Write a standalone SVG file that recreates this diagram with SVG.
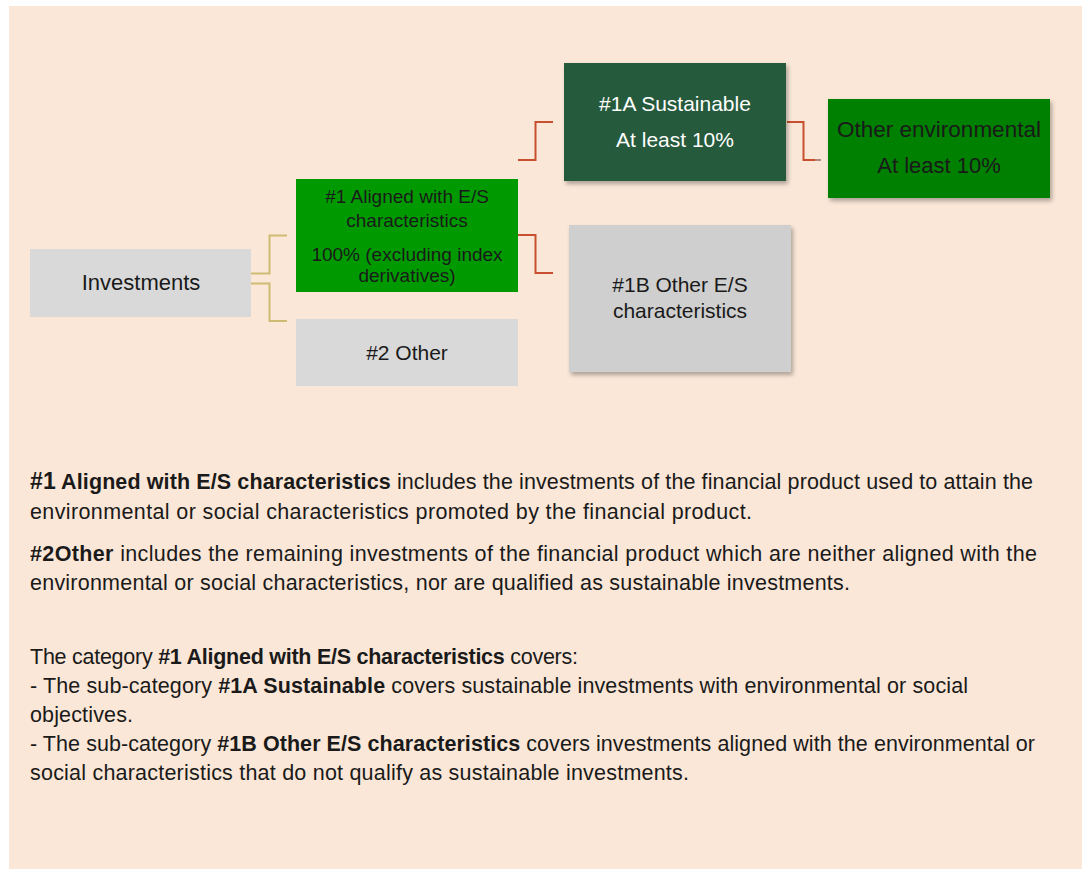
<svg xmlns="http://www.w3.org/2000/svg" width="1082" height="869" viewBox="0 0 1082 869">
<defs>
<style>
.node{font-family:"Liberation Sans",Arial,sans-serif;font-size:21px;text-anchor:middle;fill:#1a1a1a;}
.body{font-family:"Liberation Sans",Arial,sans-serif;font-size:21.5px;fill:#1a1a1a;}
.b{font-weight:bold;}
.yel{fill:none;stroke:#cdbb73;stroke-width:2;}
.red{fill:none;stroke:#c8502e;stroke-width:2;}
</style>
<filter id="sh" x="-10%" y="-10%" width="130%" height="140%">
<feDropShadow dx="2" dy="3" stdDeviation="2" flood-color="#000" flood-opacity="0.3"/>
</filter>
</defs>
<rect x="9" y="6" width="1073" height="863" fill="#fae7d7"/>

<g id="connectors">
<path class="yel" d="M251 273.5 H269.5 V235.5 H287"/>
<path class="yel" d="M251 283.5 H269.5 V321 H287"/>
<path class="red" d="M518 235 H535.5 V273 H553"/>
<path class="red" d="M518 160 H535.5 V122 H553"/>
<path class="red" d="M787 122 H803.5 V160 H815"/>
<path d="M815 160 H821" fill="none" stroke="#b08878" stroke-width="2"/>
</g>

<g id="investments">
<rect x="30" y="249" width="221" height="68" fill="#d9d9d9"/>
<text class="node" style="font-size:22px" x="141" y="290">Investments</text>
</g>

<g id="aligned">
<rect x="296" y="179" width="222" height="113" fill="#009a00"/>
<text class="node" style="font-size:19px" x="407" y="203">#1 Aligned with E/S</text>
<text class="node" style="font-size:19px" x="407" y="227">characteristics</text>
<text class="node" style="font-size:19px" x="407" y="261">100% (excluding index</text>
<text class="node" style="font-size:19px" x="407" y="282">derivatives)</text>
</g>

<g id="other2">
<rect x="296" y="319" width="222" height="67" fill="#d9d9d9"/>
<text class="node" x="407" y="360">#2 Other</text>
</g>

<g id="sustainable">
<rect x="564" y="63" width="222" height="118" fill="#275a3c" filter="url(#sh)"/>
<text class="node" style="fill:#ffffff" x="675" y="111">#1A Sustainable</text>
<text class="node" style="fill:#ffffff" x="675" y="147">At least 10%</text>
</g>

<g id="otherenv">
<rect x="828" y="99" width="222" height="99" fill="#038003" filter="url(#sh)"/>
<text class="node" style="font-size:22.5px" x="939" y="137">Other environmental</text>
<text class="node" style="font-size:22px" x="939" y="173">At least 10%</text>
</g>

<g id="otheres">
<rect x="569" y="225" width="222" height="147" fill="#cfcfcf" filter="url(#sh)"/>
<text class="node" x="680" y="292">#1B Other E/S</text>
<text class="node" x="680" y="318">characteristics</text>
</g>

<g id="legend">
<text class="body" x="30" y="489" textLength="1003" lengthAdjust="spacing"><tspan class="b" style="font-size:23px">#1</tspan><tspan class="b"> Aligned with E/S characteristics</tspan> includes the investments of the financial product used to attain the</text>
<text class="body" x="30" y="519" textLength="722" lengthAdjust="spacing">environmental or social characteristics promoted by the financial product.</text>
<text class="body" x="30" y="561" textLength="1007" lengthAdjust="spacing"><tspan class="b">#2Other</tspan> includes the remaining investments of the financial product which are neither aligned with the</text>
<text class="body" x="30" y="590" textLength="820" lengthAdjust="spacing">environmental or social characteristics, nor are qualified as sustainable investments.</text>
<text class="body" x="30" y="664" textLength="548" lengthAdjust="spacing">The category <tspan class="b">#1 Aligned with E/S characteristics</tspan> covers:</text>
<text class="body" x="30" y="693" textLength="938" lengthAdjust="spacing">- The sub-category <tspan class="b">#1A Sustainable</tspan> covers sustainable investments with environmental or social</text>
<text class="body" x="30" y="722" textLength="103" lengthAdjust="spacing">objectives.</text>
<text class="body" x="30" y="751" textLength="1005" lengthAdjust="spacing">- The sub-category <tspan class="b">#1B Other E/S characteristics</tspan> covers investments aligned with the environmental or</text>
<text class="body" x="30" y="780" textLength="659" lengthAdjust="spacing">social characteristics that do not qualify as sustainable investments.</text>
</g>
</svg>
